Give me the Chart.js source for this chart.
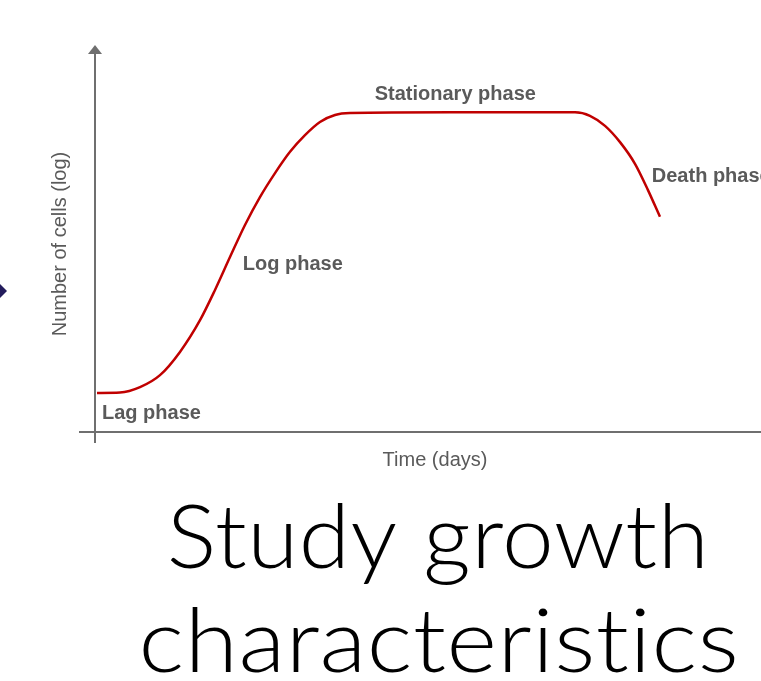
<!DOCTYPE html>
<html>
<head>
<meta charset="utf-8">
<script src="https://cdn.jsdelivr.net/npm/chart.js@4/dist/chart.umd.min.js"></script>
<style>
  body { margin: 0; background: #fff; }
  #growth-chart { display: block; }
</style>
</head>
<body>
<canvas id="growth-chart" width="761" height="681"></canvas>
<script>
// time (arbitrary units) and number of cells (log, arbitrary units)
let timeValues = [0.3, 3.75, 6.76, 9.76, 12.76, 15.77, 18.02, 20.27, 22.52, 24.77, 27.03, 29.28, 31.53, 33.78, 36.04, 38.29, 53.3, 70.57, 72.07, 74.32, 76.58, 78.83, 81.08, 83.03, 84.83];
let cellValues = [1.01, 1.02, 1.16, 1.47, 2.07, 2.89, 3.67, 4.52, 5.35, 6.07, 6.69, 7.24, 7.67, 8.01, 8.19, 8.24, 8.26, 8.26, 8.26, 8.17, 7.91, 7.49, 6.93, 6.25, 5.56];
let phaseNames = ["Lag phase", "Log phase", "Stationary phase", "Death phase"];
let xTitle = "Time (days)";
let yTitle = "Number of cells (log)";
let slideTitle = ["Study growth", "characteristics"];

const grey = "#5a5a5a";
const axisGrey = "#6f6f6f";

// where the phase names sit, in data units
const phaseSpots = [[1.05, 0.34], [22.2, 4.19], [42.0, 8.58], [83.6, 6.46]];

const decorations = {
  id: "decorations",
  afterDraw(chart) {
    const ctx = chart.ctx;
    const a = chart.chartArea;
    const xs = chart.scales.x;
    const ys = chart.scales.y;
    ctx.save();

    // axes
    ctx.strokeStyle = axisGrey;
    ctx.lineWidth = 2;
    ctx.beginPath();
    ctx.moveTo(a.left, a.top + 6);
    ctx.lineTo(a.left, a.bottom + 11);
    ctx.moveTo(a.left - 16, a.bottom);
    ctx.lineTo(a.right, a.bottom);
    ctx.stroke();
    ctx.fillStyle = axisGrey;
    ctx.beginPath();
    ctx.moveTo(a.left, a.top);
    ctx.lineTo(a.left - 7, a.top + 9);
    ctx.lineTo(a.left + 7, a.top + 9);
    ctx.closePath();
    ctx.fill();

    // phase names
    ctx.fillStyle = grey;
    ctx.font = "bold 20px 'Liberation Sans', Arial, sans-serif";
    ctx.textBaseline = "alphabetic";
    ctx.textAlign = "left";
    phaseNames.forEach((name, i) => {
      ctx.fillText(name, xs.getPixelForValue(phaseSpots[i][0]), ys.getPixelForValue(phaseSpots[i][1]));
    });

    // axis titles
    ctx.font = "20px 'Liberation Sans', Arial, sans-serif";
    ctx.textAlign = "center";
    ctx.fillText(xTitle, 435, a.bottom + 34);
    ctx.save();
    ctx.translate(60, 244);
    ctx.rotate(-Math.PI / 2);
    ctx.textBaseline = "middle";
    ctx.fillText(yTitle, 0, 0);
    ctx.restore();

    // little chevron at the left edge
    ctx.fillStyle = "#231c5c";
    ctx.beginPath();
    ctx.moveTo(-3, 281);
    ctx.lineTo(7, 291);
    ctx.lineTo(-3, 301);
    ctx.closePath();
    ctx.fill();

    // big slide text, stretched to the width it has in the picture
    const lines = [[slideTitle[0], 170, 702, 568], [slideTitle[1], 143, 735, 672]];
    ctx.fillStyle = "#000";
    ctx.textAlign = "left";
    ctx.textBaseline = "alphabetic";
    ctx.font = "300 88px Lato, 'Open Sans', sans-serif";
    ctx.textRendering = "optimizeSpeed";
    ctx.letterSpacing = "0.5px";
    lines.forEach(([txt, x0, x1, base]) => {
      const m = ctx.measureText(txt);
      const w = m.actualBoundingBoxRight + m.actualBoundingBoxLeft;
      ctx.save();
      ctx.translate(x0, base);
      ctx.scale((x1 - x0) / w, 1);
      ctx.fillText(txt, m.actualBoundingBoxLeft, 0);
      ctx.restore();
    });

    ctx.restore();
  }
};

new Chart(document.getElementById("growth-chart"), {
  type: "line",
  data: {
    datasets: [{
      data: timeValues.map((t, i) => ({ x: t, y: cellValues[i] })),
      borderColor: "#c00000",
      borderWidth: 2.5,
      pointRadius: 0,
      cubicInterpolationMode: "monotone",
      fill: false
    }]
  },
  options: {
    responsive: false,
    animation: false,
    layout: { padding: { left: 95, right: 0, top: 45, bottom: 249 } },
    plugins: { legend: { display: false }, tooltip: { enabled: false } },
    scales: {
      x: { type: "linear", min: 0, max: 100, display: false },
      y: { min: 0, max: 10, display: false }
    }
  },
  plugins: [decorations]
});
</script>
</body>
</html>
